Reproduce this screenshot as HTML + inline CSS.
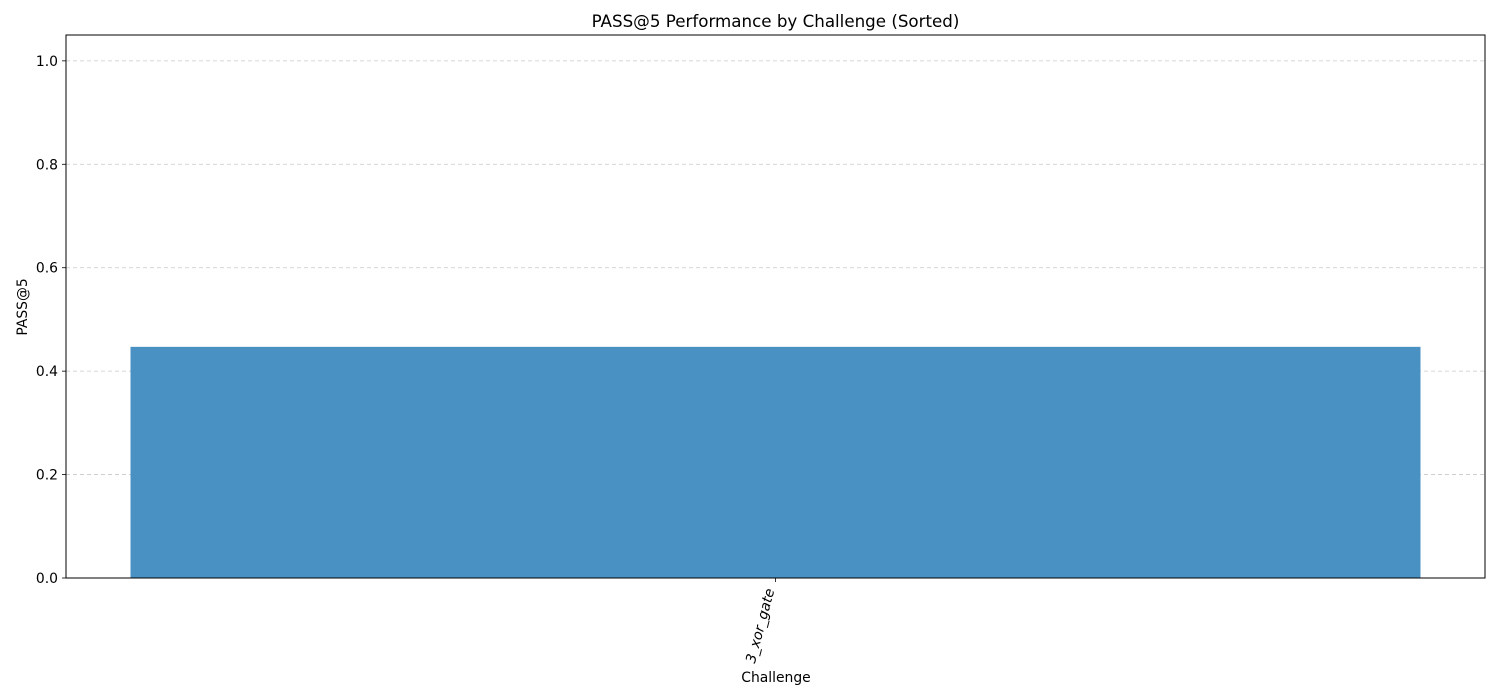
<!DOCTYPE html>
<html><head><meta charset="utf-8"><style>
html,body{margin:0;padding:0;background:#fff;}
svg{display:block;font-family:"DejaVu Sans","Liberation Sans",sans-serif;}
</style></head><body>
<svg id="chart" width="1500" height="700"></svg>
<script>
const categories = ["3_xor_gate"];
const values = [0.447];
const yTicks = [0, 0.2, 0.4, 0.6, 0.8, 1.0];
const yTickLabels = ["0.0","0.2","0.4","0.6","0.8","1.0"];

const L=66,R=1485,T=35,B=578;
const yMax=1.05;
const barW=0.8, xMin=-0.44, xMax=categories.length-1+0.44;
const ys=v=>B-(v/yMax)*(B-T);
const xs=v=>L+(v-xMin)/(xMax-xMin)*(R-L);
const svg=document.getElementById('chart');
const NS='http://www.w3.org/2000/svg';
function mk(tag,attrs,parent){const e=document.createElementNS(NS,tag);for(const k in attrs)e.setAttribute(k,attrs[k]);(parent||svg).appendChild(e);return e;}

yTicks.forEach((t,i)=>{
  const g=mk('line',{x1:L,x2:R,y1:ys(t),y2:ys(t),stroke:'#c8c8c8','stroke-width':0.8,'stroke-dasharray':'4,3'});
  
  
});
categories.forEach((c,i)=>{
  const r=mk('rect',{x:xs(i-barW/2),y:ys(values[i]),width:xs(i+barW/2)-xs(i-barW/2),height:ys(0)-ys(values[i]),fill:'#4a91c3'});
  
  
  const tk=mk('line',{x1:xs(i),x2:xs(i),y1:B,y2:B+4,stroke:'#000','stroke-width':0.8});
  
  
  const tx=xs(i)-1, ty=B+12;
  const lb=mk('text',{x:tx,y:ty,'font-size':13.9,'text-anchor':'end',transform:`rotate(-75 ${tx} ${ty})`,'font-style':'italic'});
  lb.textContent=c;
  
  
});
yTicks.forEach((t,i)=>{
  const tk=mk('line',{x1:L-4,x2:L,y1:ys(t),y2:ys(t),stroke:'#000','stroke-width':0.8});
  
  
  const lb=mk('text',{x:L-8,y:ys(t)+5,'font-size':13.9,'text-anchor':'end'});
  lb.textContent=yTickLabels[i];
  
  
});
const fr=mk('rect',{x:L,y:T,width:R-L,height:B-T,fill:'none',stroke:'#000','stroke-width':1});


const ti=mk('text',{x:(L+R)/2,y:27,'font-size':16.7,'text-anchor':'middle'});
ti.textContent='PASS@5 Performance by Challenge (Sorted)';


const xt=mk('text',{x:776,y:682,'font-size':13.9,'text-anchor':'middle'});
xt.textContent='Challenge';


const yt=mk('text',{x:27,y:307,'font-size':13.9,'text-anchor':'middle',transform:'rotate(-90 27 307)'});
yt.textContent='PASS@5';


</script>
</body></html>
